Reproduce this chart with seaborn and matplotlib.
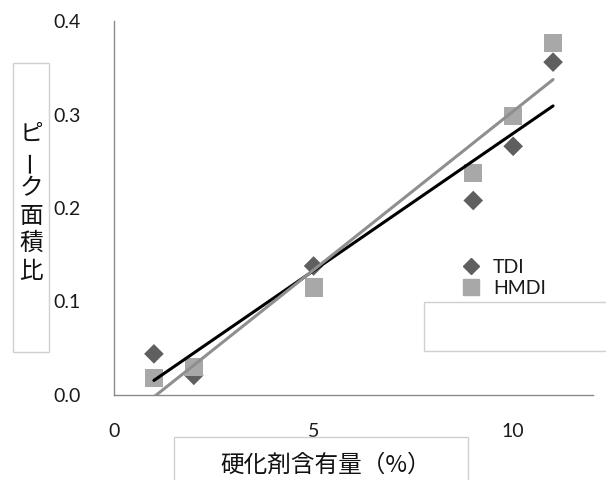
import matplotlib
matplotlib.use("Agg")
import matplotlib.pyplot as plt
import seaborn as sns
import pandas as pd
from matplotlib.patches import Rectangle
from matplotlib.lines import Line2D

# data
x_vals = [1, 2, 5, 9, 10, 11]
tdi = [0.044, 0.021, 0.138, 0.208, 0.266, 0.356]
hmdi = [0.018, 0.030, 0.115, 0.237, 0.298, 0.376]
series_names = ["TDI", "HMDI"]
x_ticks = [0, 5, 10]
y_ticks = [0.0, 0.1, 0.2, 0.3, 0.4]
x_label = "硬化剤含有量（%）"
y_label = "ピーク面積比"

sns.set_style("white")
plt.rcParams["font.family"] = ["Lato", "Noto Sans CJK JP", "DejaVu Sans"]

df = pd.DataFrame({
    "x": x_vals * 2,
    "y": tdi + hmdi,
    "series": [series_names[0]] * len(x_vals) + [series_names[1]] * len(x_vals),
})

fig = plt.figure(figsize=(6.06, 4.8), dpi=100)
ax = fig.add_axes([114 / 606, 1 - 395 / 480, (593 - 114) / 606, (395 - 21) / 480])

marker_col = {"TDI": "#5f5f5f", "HMDI": "#a8a8a8"}
line_col = {"TDI": "#000000", "HMDI": "#8f8f8f"}
markers = {"TDI": "D", "HMDI": "s"}
msize = {"TDI": 10, "HMDI": 13}

for name in series_names:
    sub = df[df["series"] == name]
    sns.regplot(data=sub, x="x", y="y", ax=ax, scatter=False, ci=None,
                truncate=True, line_kws=dict(color=line_col[name], lw=2.2, zorder=3))

for name in series_names:
    sub = df[df["series"] == name]
    sns.scatterplot(data=sub, x="x", y="y", ax=ax, marker=markers[name],
                    s=msize[name] ** 2, color=marker_col[name], edgecolor="none",
                    zorder=2, legend=False)

ax.set_xlim(0, 12)
ax.set_ylim(0, 0.4)
ax.set_xticks(x_ticks)
ax.set_yticks(y_ticks)
ax.set_yticklabels([f"{v:.1f}" for v in y_ticks])
ax.set_xlabel("")
ax.set_ylabel("")
for s in ["top", "right"]:
    ax.spines[s].set_visible(False)
for s in ["left", "bottom"]:
    ax.spines[s].set_color("#8a8a8a")
    ax.spines[s].set_linewidth(1.0)
ax.tick_params(axis="both", direction="in", length=6, width=1.0, color="#8a8a8a",
               labelsize=14, labelcolor="#1a1a1a")
ax.tick_params(axis="y", pad=24)
ax.tick_params(axis="x", pad=20)

# legend
handles = [
    Line2D([], [], marker=markers[n], color=marker_col[n], linestyle="none",
           markersize=msize[n] * 0.85) for n in series_names
]
leg = ax.legend(handles, series_names, loc="upper left",
                bbox_to_anchor=((452 - 114) / (593 - 114), (395 - 251) / (395 - 21)),
                frameon=False, fontsize=14, handletextpad=0.5, labelspacing=0.2,
                borderaxespad=0, handlelength=1.2)
for t in leg.get_texts():
    t.set_color("#1a1a1a")

# empty box at right
fig.patches.append(Rectangle((424 / 606, 1 - 351 / 480), (620 - 424) / 606, 49 / 480,
                             transform=fig.transFigure, facecolor="white",
                             edgecolor="#d0d0d0", lw=1, zorder=5))

# y label box (vertical writing, one character per line)
fig.patches.append(Rectangle((13 / 606, 1 - 352 / 480), 36 / 606, 289 / 480,
                             transform=fig.transFigure, facecolor="white",
                             edgecolor="#d0d0d0", lw=1))
n = len(y_label)
y0, y1 = 134, 271
for i, ch in enumerate(y_label):
    yy = y0 + (y1 - y0) * i / (n - 1)
    fig.text(31 / 606, 1 - yy / 480, ch, ha="center", va="center",
             fontsize=17, family=["Noto Sans CJK JP"], color="#111111",
             rotation=90 if ch == "ー" else 0)

# x label box
fig.patches.append(Rectangle((174 / 606, -0.05), (468 - 174) / 606, (480 - 437) / 480 + 0.05,
                             transform=fig.transFigure, facecolor="white",
                             edgecolor="#d0d0d0", lw=1))
fig.text(326 / 606, 1 - 465 / 480, x_label, ha="center", va="center",
         fontsize=17, family=["Noto Sans CJK JP"], color="#111111")

fig.savefig("out.png", dpi=100)
